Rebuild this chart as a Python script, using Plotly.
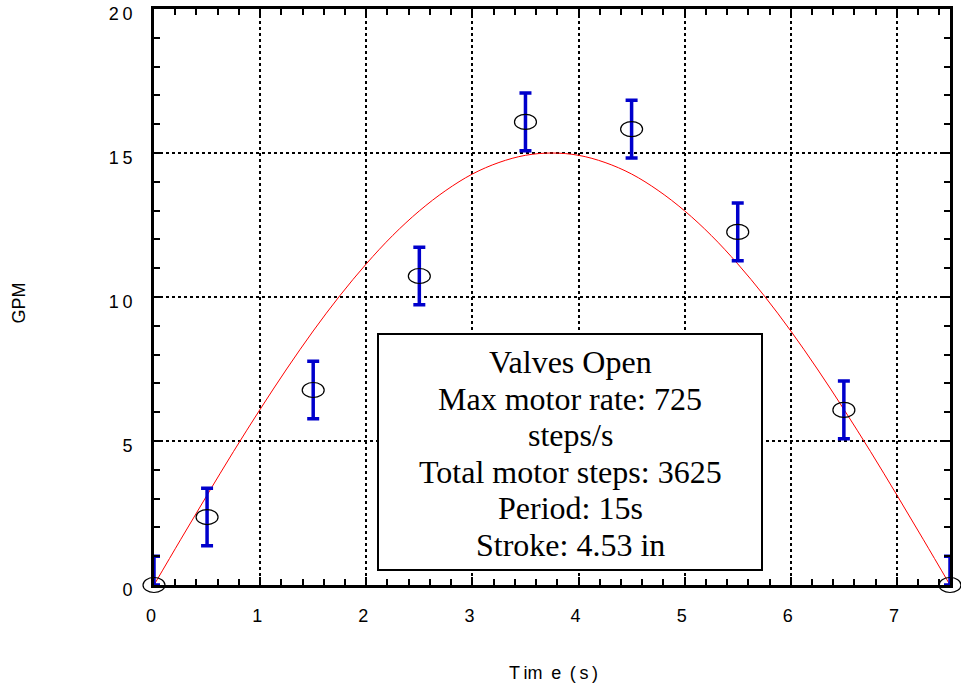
import plotly.graph_objects as go

time_s = [0, 0.5, 1.5, 2.5, 3.5, 4.5, 5.5, 6.5, 7.5]
gpm = [0, 2.36, 6.77, 10.73, 16.08, 15.83, 12.26, 6.08, 0]
err_plus = [1, 1, 1, 1, 1, 1, 1, 1, 1]
err_minus = [0, 1, 1, 1, 1, 1, 1, 1, 0]

# Red model curve
fit_t = [0, 0.25, 0.5, 0.75, 1.0, 1.25, 1.5, 1.75, 2.0, 2.25, 2.5, 2.75, 3.0, 3.25, 3.5, 3.75,
         4.0, 4.25, 4.5, 4.75, 5.0, 5.25, 5.5, 5.75, 6.0, 6.25, 6.5, 6.75, 7.0, 7.25, 7.5]
fit_gpm = [0, 1.57, 3.12, 4.64, 6.10, 7.50, 8.82, 10.04, 11.15, 12.14, 12.99, 13.70, 14.27, 14.67, 14.92, 15.0,
           14.92, 14.67, 14.27, 13.70, 12.99, 12.14, 11.15, 10.04, 8.82, 7.50, 6.10, 4.64, 3.12, 1.57, 0]

x_ticks = [0, 1, 2, 3, 4, 5, 6, 7]
y_ticks = [0, 5, 10, 15, 20]
x_range = [0, 7.5]
y_range = [0, 20]

box_lines = ["Valves Open", "Max motor rate: 725", "steps/s", "Total motor steps: 3625",
             "Period: 15s", "Stroke: 4.53 in"]

W, H = 961, 688
# plot-area placement in pixels
PL, PR, PT, PB = 154, 950, 9, 585
xdom = [PL / W, PR / W]
ydom = [(H - PB) / H, (H - PT) / H]

# an invisible full-page companion axis pair (same scale) so the ellipses are not clipped
def extend(rng, dom):
    span = (rng[1] - rng[0]) / (dom[1] - dom[0])
    return [rng[0] - dom[0] * span, rng[1] + (1 - dom[1]) * span]

fig = go.Figure()

fig.add_trace(go.Scatter(
    x=fit_t, y=fit_gpm, mode="lines", line=dict(color="red", width=1, shape="spline"),
    hoverinfo="skip", showlegend=False))

fig.add_trace(go.Scatter(
    x=time_s, y=gpm, mode="markers",
    marker=dict(size=2, color="rgba(0,0,0,0)"),
    error_y=dict(type="data", symmetric=False, array=err_plus, arrayminus=err_minus,
                 color="#0000CC", thickness=3.5, width=6),
    cliponaxis=False, showlegend=False))

# anchor trace for the companion axes
fig.add_trace(go.Scatter(x=time_s, y=gpm, xaxis="x2", yaxis="y2", mode="markers",
                         marker=dict(size=1, color="rgba(0,0,0,0)"), hoverinfo="skip",
                         showlegend=False))

for xv, yv in zip(time_s, gpm):
    fig.add_shape(type="circle", xref="x2", yref="y2", xsizemode="pixel", ysizemode="pixel",
                  xanchor=xv, yanchor=yv, x0=-11, x1=11, y0=-7.5, y1=7.5,
                  line=dict(color="black", width=1.2), layer="above")

tick_font = dict(family="Liberation Sans, Arial, sans-serif", size=18, color="black")
axis_common = dict(
    showline=True, linecolor="black", linewidth=3, mirror="ticks",
    ticks="inside", tickcolor="black", tickwidth=2, ticklen=8,
    showgrid=True, gridcolor="black", gridwidth=2, griddash="dot",
    zeroline=False, automargin=False, tickfont=tick_font, tickmode="array",
)

fig.update_layout(
    xaxis=dict(domain=xdom, range=x_range, anchor="y", tickvals=x_ticks,
               ticktext=["\u2009".join(str(v)) for v in x_ticks],
               minor=dict(dtick=0.2, tick0=0, ticks="inside", ticklen=6, tickwidth=2,
                          tickcolor="black", showgrid=False),
               ticklabelstandoff=12, ticklabelshift=-3, **axis_common),
    yaxis=dict(domain=ydom, range=y_range, anchor="x", tickvals=y_ticks,
               ticktext=["\u2009".join(str(v)) for v in y_ticks],
               minor=dict(dtick=1, tick0=0, ticks="inside", ticklen=6, tickwidth=2,
                          tickcolor="black", showgrid=False),
               ticklabelstandoff=15, ticklabelshift=5, **axis_common),
    xaxis2=dict(domain=[0, 1], range=extend(x_range, xdom), anchor="y2", visible=False,
                showgrid=False, zeroline=False),
    yaxis2=dict(domain=[0, 1], range=extend(y_range, ydom), anchor="x2", visible=False,
                showgrid=False, zeroline=False),
)

# text box
box_x = (377 + 763) / 2 / W
fig.add_annotation(x=box_x, y=(H - 452) / H, xref="paper", yref="paper", text="",
                   showarrow=False, bgcolor="white", bordercolor="black", borderwidth=2,
                   borderpad=0, width=382, height=234)
line_step = 36.6
for i, ln in enumerate(box_lines):
    cy = 362.0 + i * line_step
    fig.add_annotation(x=box_x, y=(H - cy) / H, xref="paper", yref="paper",
                       text=ln, showarrow=False, xanchor="center", yanchor="middle",
                       font=dict(family="Liberation Serif, Times New Roman, serif", size=32,
                                 color="black"))

lab_font = dict(family="Liberation Sans, Arial, sans-serif", size=18, color="black")
fig.add_annotation(x=18.5 / W, y=(H - 303) / H, xref="paper", yref="paper", text="GPM",
                   textangle=-90, showarrow=False, xanchor="center", yanchor="middle",
                   font=lab_font)
fig.add_annotation(x=553 / W, y=(H - 673) / H, xref="paper", yref="paper",
                   text="T\u2009im\u2009 e\u2009 (\u2009s\u2009)", showarrow=False,
                   xanchor="center", yanchor="middle", font=lab_font)

fig.update_layout(width=W, height=H, margin=dict(l=0, r=0, t=0, b=0),
                  plot_bgcolor="rgba(0,0,0,0)", paper_bgcolor="white", showlegend=False)

fig.write_html("out.html")
